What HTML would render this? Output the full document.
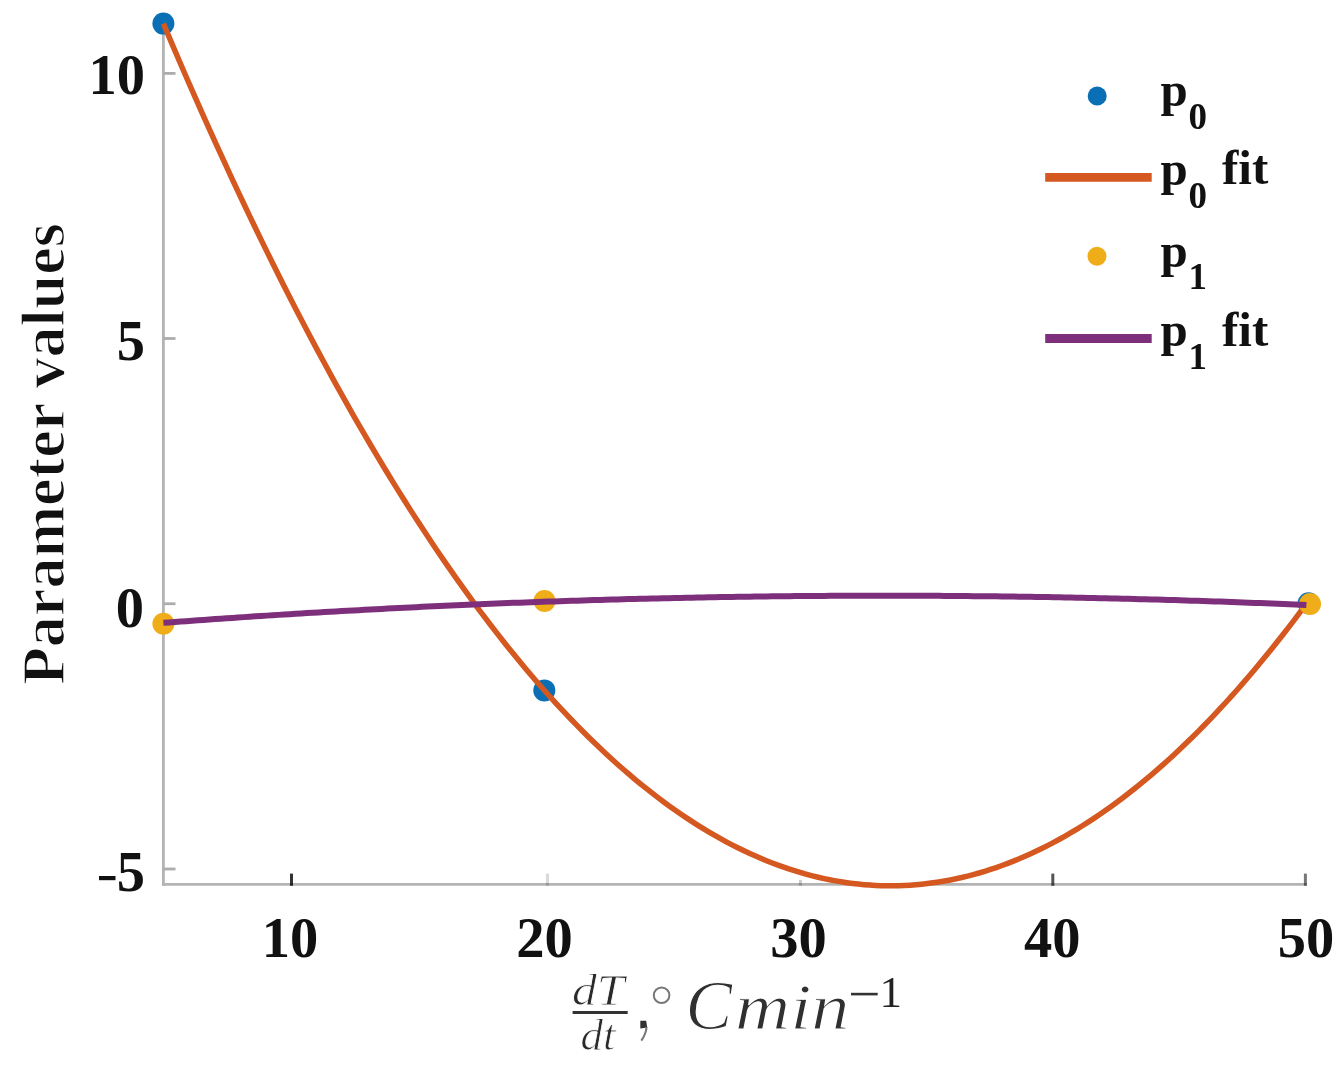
<!DOCTYPE html>
<html><head><meta charset="utf-8"><title>Parameter values</title>
<style>
html,body{margin:0;padding:0;background:#fff;}
body{width:1344px;height:1066px;overflow:hidden;font-family:"Liberation Serif",serif;}
svg{display:block;filter:blur(0.6px);}
</style></head><body>
<svg width="1344" height="1066" viewBox="0 0 1344 1066">
<rect width="1344" height="1066" fill="#fff"/>
<line x1="163.4" y1="23" x2="163.4" y2="885.8" stroke="#b4b4b4" stroke-width="2.8"/>
<line x1="162" y1="884.4" x2="1306.8" y2="884.4" stroke="#b4b4b4" stroke-width="2.8"/>
<line x1="163.4" y1="73.4" x2="175.5" y2="73.4" stroke="#adadad" stroke-width="2.8"/>
<line x1="163.4" y1="338.5" x2="175.5" y2="338.5" stroke="#adadad" stroke-width="2.8"/>
<line x1="163.4" y1="603.75" x2="175.5" y2="603.75" stroke="#adadad" stroke-width="2.8"/>
<line x1="163.4" y1="869.0" x2="175.5" y2="869.0" stroke="#adadad" stroke-width="2.8"/>
<rect x="290.0" y="873.6" width="3" height="12.2" fill="#000" fill-opacity="0.8"/>
<rect x="546.0" y="873.6" width="3" height="12.2" fill="#000" fill-opacity="0.15"/>
<rect x="798.9" y="880.0" width="3" height="5.8" fill="#000" fill-opacity="0.2"/>
<rect x="1051.3" y="873.6" width="3" height="12.2" fill="#000" fill-opacity="0.67"/>
<rect x="1303.9" y="873.6" width="3" height="12.2" fill="#000" fill-opacity="0.53"/>
<text x="145" y="94.0" text-anchor="end" font-family="Liberation Serif" font-weight="bold" font-size="56.5" fill="#111">10</text>
<text x="145" y="360.0" text-anchor="end" font-family="Liberation Serif" font-weight="bold" font-size="56.5" fill="#111">5</text>
<text x="144" y="626.5" text-anchor="end" font-family="Liberation Serif" font-weight="bold" font-size="56.5" fill="#111">0</text>
<text x="145" y="890.5" text-anchor="end" font-family="Liberation Serif" font-weight="bold" font-size="56.5" fill="#111">5</text>
<rect x="99" y="876" width="16.5" height="4.2" fill="#111"/>
<text x="290.1" y="956.7" text-anchor="middle" font-family="Liberation Serif" font-weight="bold" font-size="56.5" fill="#111">10</text>
<text x="544.5" y="956.7" text-anchor="middle" font-family="Liberation Serif" font-weight="bold" font-size="56.5" fill="#111">20</text>
<text x="798.4" y="956.7" text-anchor="middle" font-family="Liberation Serif" font-weight="bold" font-size="56.5" fill="#111">30</text>
<text x="1052.3" y="956.7" text-anchor="middle" font-family="Liberation Serif" font-weight="bold" font-size="56.5" fill="#111">40</text>
<text x="1306.0" y="956.7" text-anchor="middle" font-family="Liberation Serif" font-weight="bold" font-size="56.5" fill="#111">50</text>
<text transform="translate(64,685) rotate(-90)" font-family="Liberation Serif" font-weight="bold" font-size="62" fill="#111" stroke="#fff" stroke-width="1.4">Parameter values</text>
<circle cx="1308.6" cy="603.2" r="11" fill="#0a6fb4"/>
<circle cx="163.4" cy="23.6" r="11" fill="#0a6fb4"/>
<circle cx="544.3" cy="690.4" r="11" fill="#0a6fb4"/>
<path d="M163.40,23.60 L169.14,37.17 L174.89,50.63 L180.63,63.98 L186.37,77.23 L192.12,90.36 L197.86,103.39 L203.61,116.32 L209.35,129.13 L215.09,141.84 L220.84,154.44 L226.58,166.93 L232.32,179.31 L238.07,191.59 L243.81,203.76 L249.56,215.82 L255.30,227.77 L261.04,239.62 L266.79,251.36 L272.53,262.99 L278.27,274.51 L284.02,285.93 L289.76,297.23 L295.51,308.43 L301.25,319.53 L306.99,330.51 L312.74,341.39 L318.48,352.16 L324.22,362.82 L329.97,373.38 L335.71,383.82 L341.46,394.16 L347.20,404.39 L352.94,414.52 L358.69,424.54 L364.43,434.45 L370.17,444.25 L375.92,453.94 L381.66,463.53 L387.41,473.01 L393.15,482.38 L398.89,491.64 L404.64,500.80 L410.38,509.85 L416.12,518.79 L421.87,527.62 L427.61,536.34 L433.35,544.96 L439.10,553.47 L444.84,561.88 L450.59,570.17 L456.33,578.36 L462.07,586.44 L467.82,594.41 L473.56,602.28 L479.30,610.03 L485.05,617.68 L490.79,625.22 L496.54,632.66 L502.28,639.99 L508.02,647.20 L513.77,654.32 L519.51,661.32 L525.25,668.22 L531.00,675.01 L536.74,681.69 L542.49,688.26 L548.23,694.73 L553.97,701.08 L559.72,707.34 L565.46,713.48 L571.20,719.51 L576.95,725.44 L582.69,731.26 L588.44,736.98 L594.18,742.58 L599.92,748.08 L605.67,753.47 L611.41,758.75 L617.15,763.93 L622.90,768.99 L628.64,773.95 L634.38,778.80 L640.13,783.55 L645.87,788.19 L651.62,792.71 L657.36,797.14 L663.10,801.45 L668.85,805.66 L674.59,809.76 L680.33,813.75 L686.08,817.63 L691.82,821.41 L697.57,825.07 L703.31,828.63 L709.05,832.09 L714.80,835.43 L720.54,838.67 L726.28,841.80 L732.03,844.82 L737.77,847.74 L743.52,850.55 L749.26,853.25 L755.00,855.84 L760.75,858.32 L766.49,860.70 L772.23,862.97 L777.98,865.13 L783.72,867.19 L789.47,869.13 L795.21,870.97 L800.95,872.71 L806.70,874.33 L812.44,875.85 L818.18,877.25 L823.93,878.56 L829.67,879.75 L835.42,880.84 L841.16,881.81 L846.90,882.68 L852.65,883.45 L858.39,884.10 L864.13,884.65 L869.88,885.09 L875.62,885.42 L881.36,885.65 L887.11,885.77 L892.85,885.78 L898.60,885.68 L904.34,885.47 L910.08,885.16 L915.83,884.74 L921.57,884.21 L927.31,883.58 L933.06,882.83 L938.80,881.98 L944.55,881.03 L950.29,879.96 L956.03,878.79 L961.78,877.50 L967.52,876.12 L973.26,874.62 L979.01,873.02 L984.75,871.30 L990.50,869.48 L996.24,867.56 L1001.98,865.52 L1007.73,863.38 L1013.47,861.13 L1019.21,858.77 L1024.96,856.31 L1030.70,853.74 L1036.45,851.06 L1042.19,848.27 L1047.93,845.37 L1053.68,842.37 L1059.42,839.26 L1065.16,836.04 L1070.91,832.72 L1076.65,829.28 L1082.39,825.74 L1088.14,822.09 L1093.88,818.34 L1099.63,814.48 L1105.37,810.50 L1111.11,806.43 L1116.86,802.24 L1122.60,797.94 L1128.34,793.54 L1134.09,789.03 L1139.83,784.42 L1145.58,779.69 L1151.32,774.86 L1157.06,769.92 L1162.81,764.87 L1168.55,759.72 L1174.29,754.46 L1180.04,749.09 L1185.78,743.61 L1191.53,738.02 L1197.27,732.33 L1203.01,726.53 L1208.76,720.62 L1214.50,714.61 L1220.24,708.48 L1225.99,702.25 L1231.73,695.91 L1237.48,689.47 L1243.22,682.91 L1248.96,676.25 L1254.71,669.48 L1260.45,662.61 L1266.19,655.62 L1271.94,648.53 L1277.68,641.33 L1283.43,634.03 L1289.17,626.61 L1294.91,619.09 L1300.66,611.46 L1306.40,603.72" fill="none" stroke="#d4581f" stroke-width="5.5" stroke-linejoin="round"/>
<circle cx="163.4" cy="623.8" r="11" fill="#f0ad1a"/>
<circle cx="544.5" cy="601" r="11" fill="#f0ad1a"/>
<circle cx="1310" cy="604" r="11" fill="#f0ad1a"/>
<path d="M163.40,622.84 L169.14,622.41 L174.89,621.98 L180.63,621.56 L186.37,621.14 L192.12,620.72 L197.86,620.31 L203.61,619.90 L209.35,619.49 L215.09,619.09 L220.84,618.69 L226.58,618.29 L232.32,617.90 L238.07,617.51 L243.81,617.12 L249.56,616.74 L255.30,616.36 L261.04,615.99 L266.79,615.62 L272.53,615.25 L278.27,614.88 L284.02,614.52 L289.76,614.16 L295.51,613.81 L301.25,613.45 L306.99,613.11 L312.74,612.76 L318.48,612.42 L324.22,612.08 L329.97,611.75 L335.71,611.42 L341.46,611.09 L347.20,610.77 L352.94,610.45 L358.69,610.13 L364.43,609.82 L370.17,609.51 L375.92,609.20 L381.66,608.90 L387.41,608.60 L393.15,608.30 L398.89,608.01 L404.64,607.72 L410.38,607.43 L416.12,607.15 L421.87,606.87 L427.61,606.59 L433.35,606.32 L439.10,606.05 L444.84,605.79 L450.59,605.53 L456.33,605.27 L462.07,605.01 L467.82,604.76 L473.56,604.51 L479.30,604.27 L485.05,604.03 L490.79,603.79 L496.54,603.56 L502.28,603.32 L508.02,603.10 L513.77,602.87 L519.51,602.65 L525.25,602.44 L531.00,602.22 L536.74,602.01 L542.49,601.81 L548.23,601.60 L553.97,601.40 L559.72,601.21 L565.46,601.01 L571.20,600.82 L576.95,600.64 L582.69,600.46 L588.44,600.28 L594.18,600.10 L599.92,599.93 L605.67,599.76 L611.41,599.59 L617.15,599.43 L622.90,599.27 L628.64,599.12 L634.38,598.97 L640.13,598.82 L645.87,598.67 L651.62,598.53 L657.36,598.40 L663.10,598.26 L668.85,598.13 L674.59,598.00 L680.33,597.88 L686.08,597.76 L691.82,597.64 L697.57,597.53 L703.31,597.42 L709.05,597.31 L714.80,597.21 L720.54,597.11 L726.28,597.01 L732.03,596.92 L737.77,596.83 L743.52,596.74 L749.26,596.66 L755.00,596.58 L760.75,596.50 L766.49,596.43 L772.23,596.36 L777.98,596.30 L783.72,596.24 L789.47,596.18 L795.21,596.12 L800.95,596.07 L806.70,596.02 L812.44,595.98 L818.18,595.94 L823.93,595.90 L829.67,595.86 L835.42,595.83 L841.16,595.81 L846.90,595.78 L852.65,595.76 L858.39,595.74 L864.13,595.73 L869.88,595.72 L875.62,595.71 L881.36,595.71 L887.11,595.71 L892.85,595.71 L898.60,595.72 L904.34,595.73 L910.08,595.75 L915.83,595.76 L921.57,595.78 L927.31,595.81 L933.06,595.84 L938.80,595.87 L944.55,595.90 L950.29,595.94 L956.03,595.98 L961.78,596.03 L967.52,596.07 L973.26,596.13 L979.01,596.18 L984.75,596.24 L990.50,596.30 L996.24,596.37 L1001.98,596.44 L1007.73,596.51 L1013.47,596.58 L1019.21,596.66 L1024.96,596.75 L1030.70,596.83 L1036.45,596.92 L1042.19,597.02 L1047.93,597.11 L1053.68,597.21 L1059.42,597.32 L1065.16,597.42 L1070.91,597.53 L1076.65,597.65 L1082.39,597.76 L1088.14,597.89 L1093.88,598.01 L1099.63,598.14 L1105.37,598.27 L1111.11,598.40 L1116.86,598.54 L1122.60,598.68 L1128.34,598.83 L1134.09,598.98 L1139.83,599.13 L1145.58,599.28 L1151.32,599.44 L1157.06,599.60 L1162.81,599.77 L1168.55,599.94 L1174.29,600.11 L1180.04,600.29 L1185.78,600.46 L1191.53,600.65 L1197.27,600.83 L1203.01,601.02 L1208.76,601.22 L1214.50,601.41 L1220.24,601.61 L1225.99,601.82 L1231.73,602.02 L1237.48,602.23 L1243.22,602.45 L1248.96,602.66 L1254.71,602.89 L1260.45,603.11 L1266.19,603.34 L1271.94,603.57 L1277.68,603.80 L1283.43,604.04 L1289.17,604.28 L1294.91,604.53 L1300.66,604.78 L1306.40,605.03" fill="none" stroke="#7d2f7c" stroke-width="6" stroke-linejoin="round"/>
<circle cx="1097.2" cy="96" r="9.5" fill="#0a6fb4"/>
<line x1="1045.2" y1="177.4" x2="1151.7" y2="177.4" stroke="#d4581f" stroke-width="8.8"/>
<circle cx="1097" cy="256.3" r="9.5" fill="#f0ad1a"/>
<line x1="1045.2" y1="338.5" x2="1151.7" y2="338.5" stroke="#7d2f7c" stroke-width="8.8"/>
<text x="1160.5" y="106" font-size="49" font-family="Liberation Serif" font-weight="bold" fill="#111">p</text>
<text x="1188.5" y="128.6" font-size="37" font-family="Liberation Serif" font-weight="bold" fill="#111">0</text>
<text x="1160.5" y="185" font-size="49" font-family="Liberation Serif" font-weight="bold" fill="#111">p</text>
<text x="1188.5" y="207.6" font-size="37" font-family="Liberation Serif" font-weight="bold" fill="#111">0</text>
<text x="1222" y="184.3" font-size="49" font-family="Liberation Serif" font-weight="bold" fill="#111">fit</text>
<text x="1160.5" y="267.3" font-size="49" font-family="Liberation Serif" font-weight="bold" fill="#111">p</text>
<text x="1188.5" y="289.4" font-size="37" font-family="Liberation Serif" font-weight="bold" fill="#111">1</text>
<text x="1160.5" y="346.3" font-size="49" font-family="Liberation Serif" font-weight="bold" fill="#111">p</text>
<text x="1188.5" y="368.9" font-size="37" font-family="Liberation Serif" font-weight="bold" fill="#111">1</text>
<text x="1222" y="345.6" font-size="49" font-family="Liberation Serif" font-weight="bold" fill="#111">fit</text>
<text x="572" y="1004.5" font-size="45" font-family="Liberation Serif" font-style="italic" fill="#2a2a2a" stroke="#fff" stroke-width="0.8" textLength="52.5" lengthAdjust="spacingAndGlyphs">dT</text>
<line x1="572.6" y1="1012.4" x2="627.7" y2="1012.4" stroke="#333" stroke-width="3"/>
<text x="580.5" y="1049.5" font-size="45" font-family="Liberation Serif" font-style="italic" fill="#2a2a2a" stroke="#fff" stroke-width="0.8" textLength="35" lengthAdjust="spacingAndGlyphs">dt</text>
<path d="M640.3,1020.8 L646.2,1020.8 L647.2,1027.5 L640.3,1028.4 Z" fill="#333"/><path d="M646.6,1027 Q645.8,1034.5 641.3,1040.6" fill="none" stroke="#777" stroke-width="2.1"/>
<circle cx="661.6" cy="995.3" r="7.8" fill="none" stroke="#777" stroke-width="2"/>
<text x="685.5" y="1029" font-size="70" font-family="Liberation Serif" font-style="italic" fill="#303030" stroke="#fff" stroke-width="1.1">C</text>
<text x="735" y="1028.5" font-size="66" font-family="Liberation Serif" font-style="italic" fill="#303030" stroke="#fff" stroke-width="1.1" textLength="114.5" lengthAdjust="spacingAndGlyphs">min</text>
<rect x="851" y="992.8" width="26.7" height="2.6" fill="#333"/>
<text x="879.5" y="1006.8" font-size="45" font-family="Liberation Serif" fill="#222">1</text>
</svg>
</body></html>
